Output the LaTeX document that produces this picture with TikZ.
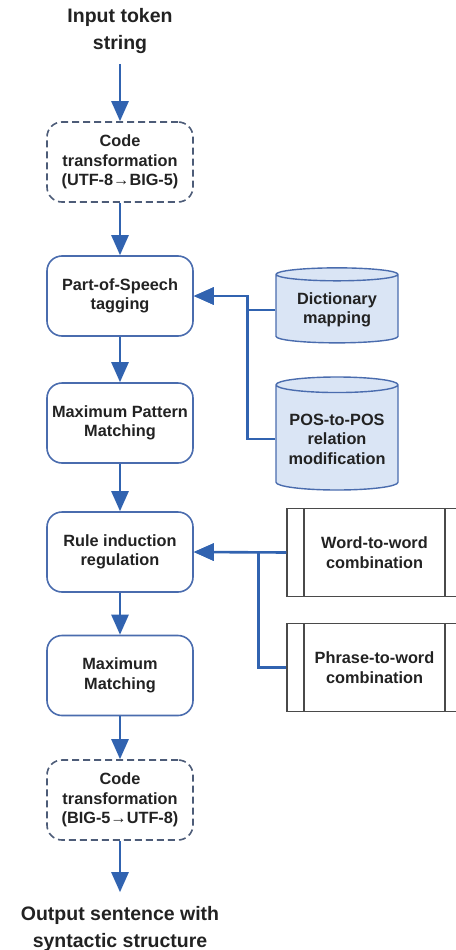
\documentclass[tikz,border=0pt]{standalone}
\usepackage{fontspec}
\setmainfont{Liberation Sans}
\usetikzlibrary{shapes.geometric,arrows.meta}

\definecolor{flowblue}{HTML}{3163B0}
\definecolor{boxblue}{HTML}{4A6CAE}
\definecolor{dashgray}{HTML}{4D5C78}
\definecolor{dbfill}{HTML}{DAE5F5}
\definecolor{procgray}{HTML}{4A4A4A}
\definecolor{txt}{HTML}{222222}

\newcommand\boxfont{\fontsize{16.3}{19.6}\selectfont\bfseries}
\newcommand\ioFont{\fontsize{19.5}{27}\selectfont\bfseries}

\begin{document}
\begin{tikzpicture}[x=1pt,y=-1pt,text=txt,
  box/.style={draw=boxblue,line width=1.6pt,rounded corners=15pt,
    minimum width=146pt,minimum height=80pt,align=center,font=\boxfont},
  codebox/.style={box,draw=dashgray,dash pattern=on 7pt off 4pt},
  db/.style={cylinder,shape border rotate=90,aspect=0.15,draw=boxblue,
    line width=1.4pt,fill=dbfill,minimum width=122pt,align=center,font=\boxfont},
  proc/.style={draw=procgray,line width=1.2pt,minimum width=175pt,
    minimum height=88pt,align=center,font=\boxfont,
    path picture={\draw[procgray,line width=1.2pt]
      ([xshift=17pt]path picture bounding box.north west) --
      ([xshift=17pt]path picture bounding box.south west)
      ([xshift=-17pt]path picture bounding box.north east) --
      ([xshift=-17pt]path picture bounding box.south east);}},
  ends/.style={align=center,font=\ioFont,inner sep=6pt},
  flow/.style={draw,color=flowblue,line width=2.6pt,-{Triangle[length=20pt,width=17pt]}}]
  \useasboundingbox (0,0) rectangle (455,950);

  \node[ends] (in) at (120,31) {Input token\\string};
  \node[codebox] (enc) at (120,162) {Code\\transformation\\(UTF-8→BIG-5)};
  \node[box] (pos) at (120,296) {Part-of-Speech\\tagging};
  \node[box] (mpm) at (120,423) {Maximum Pattern\\Matching};
  \node[box] (rule) at (120,552) {Rule induction\\regulation};
  \node[box] (mm) at (120,675.5) {Maximum\\Matching};
  \node[codebox] (dec) at (120,800) {Code\\transformation\\(BIG-5→UTF-8)};
  \node[ends] (out) at (120,929) {Output sentence with\\syntactic structure};

  % resources feeding the tagger
  \node[db,minimum height=75pt] (dict) at (337,310) {Dictionary\\mapping};
  \node[db,minimum height=113pt] (rel) at (337,439) {POS-to-POS\\relation\\modification};

  % combination rules
  \node[proc] (w2w) at (374.5,552.5) {Word-to-word\\combination};
  \node[proc] (p2w) at (374.5,667.5) {Phrase-to-word\\combination};

  \path[flow]
    (in) edge[shorten <=4pt] (enc)
    (enc) edge (pos)
    (pos) edge (mpm)
    (mpm) edge (rule)
    (rule) edge (mm)
    (mm) edge (dec)
    (dec) edge[shorten >=8pt] (out);
  \draw[flow] (dict.west) -- ++(-28,0) |- (pos.east);
  \draw[flow] (rel.west) -- ++(-28,0) |- (pos.east);
  \draw[flow] (w2w.west) -- (rule.east);
  \draw[flow] (p2w.west) -- ++(-28,0) |- (rule.east);
\end{tikzpicture}
\end{document}
